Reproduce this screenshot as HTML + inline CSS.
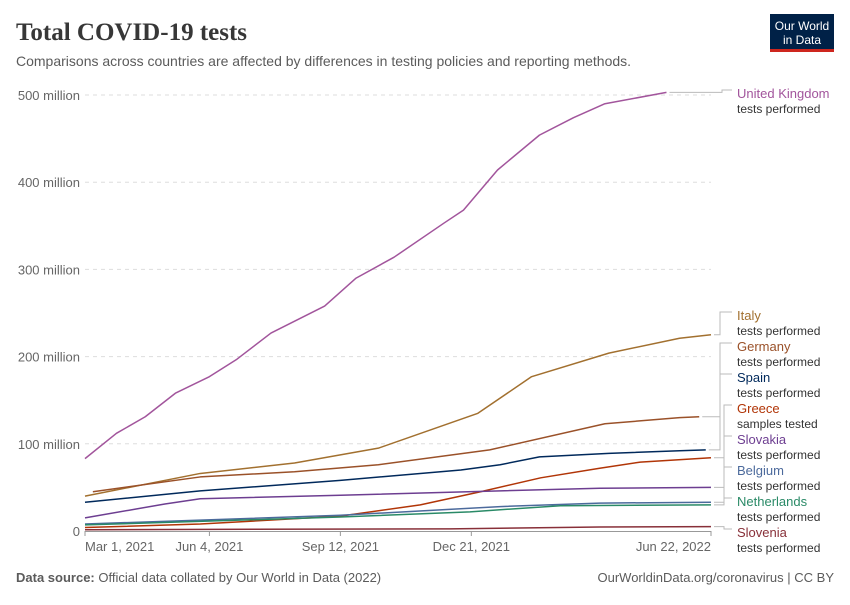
<!DOCTYPE html>
<html><head><meta charset="utf-8"><style>
body{margin:0;background:#fff;font-family:"Liberation Sans",sans-serif}
svg text{font-family:"Liberation Sans",sans-serif}
</style></head><body>
<svg id="c" width="850" height="600">
<text x="16" y="40" font-family="Liberation Serif" font-size="25" font-weight="bold" fill="#373737" style="font-family:'Liberation Serif',serif">Total COVID-19 tests</text>
<text x="16" y="66" font-size="14" fill="#5b5b5b">Comparisons across countries are affected by differences in testing policies and reporting methods.</text>
<g><rect x="770" y="14" width="64" height="38" fill="#002147"/><rect x="770" y="49" width="64" height="3" fill="#ce261e"/>
<text x="802" y="30" font-size="12" fill="#fff" text-anchor="middle">Our World</text><text x="802" y="44" font-size="12" fill="#fff" text-anchor="middle">in Data</text></g>
<g id="grid"></g><g id="series"></g><g id="legend"></g>
<text x="16" y="582" font-size="13" fill="#5b5b5b"><tspan font-weight="bold">Data source:</tspan> Official data collated by Our World in Data (2022)</text>
<text x="834" y="582" font-size="13" fill="#5b5b5b" text-anchor="end">OurWorldinData.org/coronavirus | CC BY</text>
</svg>
<script>
const yTicks=[0,100,200,300,400,500];
const yTickLabels=["0","100 million","200 million","300 million","400 million","500 million"];
const xTicks=[0,95,195,295,478];
const xTickLabels=["Mar 1, 2021","Jun 4, 2021","Sep 12, 2021","Dec 21, 2021","Jun 22, 2022"];
const names=["United Kingdom","Italy","Germany","Spain","Greece","Slovakia","Belgium","Netherlands","Slovenia"];
const subs=["tests performed","tests performed","tests performed","tests performed","samples tested","tests performed","tests performed","tests performed","tests performed"];
const colors=["#a2559c","#a2702f","#9a5129","#00295b","#b13507","#6d3e91","#4c6a9c","#2a8a67","#883039"];
const days=[
[0,24,46,69,95,116,142,183,207,236,274,289,315,347,373,397,444],
[0,88,160,224,300,341,400,454,478],
[6,88,160,224,309,397,454,469],
[0,88,195,287,317,347,400,454,474],
[0,88,195,256,302,348,393,424,478],
[0,61,88,195,317,393,478],
[0,195,317,393,478],
[0,195,294,363,478],
[0,279,393,478]];
const vals=[
[83,112,131,158,177,197,227,258,290,314,353,368,414,454,474,490,503],
[40,66,78,95,135,177,204,221,225],
[45,62,68,76,93,123,130,131],
[33,46,58,70,76,85,89,92,93],
[4,8,17,30,45,61,72,79,84],
[15,31,37,41,46,49,50],
[8,18,28,32,33],
[7,16,22,29,30],
[1.5,2.5,4.6,5]];
const labelY=[94,316,347,378,409,440,471,502,533];
const X=d=>85+d*(626/478), Y=v=>531-v*0.872;
const NS="http://www.w3.org/2000/svg";
function mk(t,a,p){const e=document.createElementNS(NS,t);for(const k in a)e.setAttribute(k,a[k]);p.appendChild(e);return e;}
const g=document.getElementById('grid'),s=document.getElementById('series'),L=document.getElementById('legend');
yTicks.forEach((v,i)=>{
 if(v>0){const l=mk('line',{x1:85,x2:711,y1:Y(v),y2:Y(v),stroke:'#ddd','stroke-dasharray':'4,4'},g);
 
 }
 const t=mk('text',{x:80,y:Y(v)+5,'font-size':13,fill:'#666','text-anchor':'end'},g);t.textContent=yTickLabels[i];
 
 
});
const ax=mk('line',{x1:85,x2:711,y1:531.5,y2:531.5,stroke:'#999'},g);


xTicks.forEach((d,i)=>{
 mk('line',{x1:X(d),x2:X(d),y1:531,y2:536,stroke:'#999'},g);
 const anchor=i==0?'start':(i==xTicks.length-1?'end':'middle');
 const t=mk('text',{x:X(d),y:551,'font-size':13,fill:'#666','text-anchor':anchor},g);t.textContent=xTickLabels[i];
 
 
});
names.forEach((n,i)=>{
 const p=mk('polyline',{points:days[i].map((d,j)=>X(d)+','+Y(vals[i][j])).join(' '),fill:'none',stroke:colors[i],'stroke-width':1.5,'stroke-linejoin':'round'},s);
 
 
 const ex=X(days[i][days[i].length-1])+3, ey=Y(vals[i][vals[i].length-1]), ly=labelY[i]-4, bx=i==0?722:(i<4?720:724);
 mk('polyline',{points:`${ex},${ey} ${bx},${ey} ${bx},${ly} ${732},${ly}`,fill:'none',stroke:'#bbb','stroke-width':1},L);
 const t=mk('text',{x:737,y:labelY[i]+4,'font-size':13,fill:colors[i]},L);t.textContent=n;
 
 
 const u=mk('text',{x:737,y:labelY[i]+19,'font-size':12,fill:'#333'},L);u.textContent=subs[i];
 
 
});
</script>
</body></html>
